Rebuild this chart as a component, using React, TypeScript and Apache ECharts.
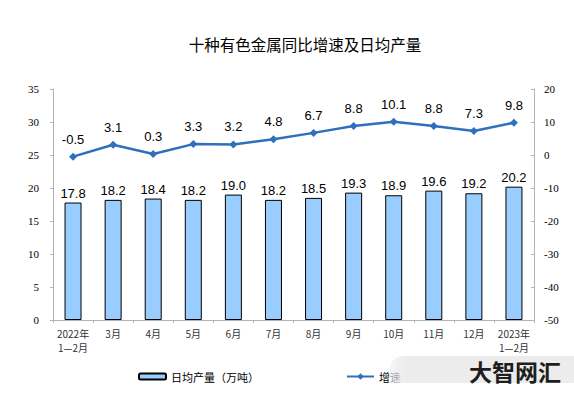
import React, { useEffect, useRef } from "react";
import * as echarts from "echarts";

const categories = ["2022年\n1—2月", "3月", "4月", "5月", "6月", "7月", "8月", "9月", "10月", "11月", "12月", "2023年\n1—2月"];
const output = [17.8, 18.2, 18.4, 18.2, 19.0, 18.2, 18.5, 19.3, 18.9, 19.6, 19.2, 20.2];
const growth = [-0.5, 3.1, 0.3, 3.3, 3.2, 4.8, 6.7, 8.8, 10.1, 8.8, 7.3, 9.8];
const barName = "日均产量（万吨）";
const lineName = "增速";
const titleText = "十种有色金属同比增速及日均产量";
const watermark = "大智网汇";

export default function App() {
  const ref = useRef<HTMLDivElement>(null);
  useEffect(() => {
    if (!ref.current) return;
    const chart = echarts.init(ref.current, null, { renderer: "svg" });
    const cjk = "'Noto Sans CJK SC', sans-serif";
    const axisLineColor = "#b3b3b3";
    chart.setOption({
      animation: false,
      backgroundColor: "#fff",
      title: {
        text: titleText,
        left: 300,
        textAlign: "center",
        top: 31,
        textStyle: { fontFamily: cjk, fontSize: 15.5, fontWeight: "normal", color: "#000" },
      },
      legend: [
        {
          data: [barName],
          left: 133,
          top: 366,
          itemWidth: 27,
          itemHeight: 6,
          itemGap: 4,
          textStyle: { fontFamily: cjk, fontSize: 11, color: "#000" },
        },
        {
          data: [lineName],
          left: 341,
          top: 366,
          itemWidth: 27,
          itemHeight: 8,
          itemGap: 4,
          textStyle: { fontFamily: cjk, fontSize: 11, color: "#000" },
        },
      ],
      grid: { left: 53, right: 40, top: 89, bottom: 77 },
      xAxis: {
        type: "category",
        data: categories,
        axisLine: { lineStyle: { color: axisLineColor } },
        axisTick: { show: true, length: 3, lineStyle: { color: axisLineColor } },
        axisLabel: {
          interval: 0,
          fontFamily: cjk,
          fontSize: 10,
          color: "#333",
          lineHeight: 14,
          margin: 6,
        },
      },
      yAxis: [
        {
          type: "value",
          min: 0,
          max: 35,
          interval: 5,
          splitLine: { show: false },
          axisLine: { show: true, lineStyle: { color: axisLineColor } },
          axisTick: { show: true, length: 3, lineStyle: { color: axisLineColor } },
          axisLabel: { fontFamily: "'Liberation Serif', serif", fontSize: 11, color: "#000", margin: 14 },
        },
        {
          type: "value",
          min: -50,
          max: 20,
          interval: 10,
          position: "right",
          splitLine: { show: false },
          axisLine: { show: true, lineStyle: { color: axisLineColor } },
          axisTick: { show: true, inside: true, length: 3, lineStyle: { color: axisLineColor } },
          axisLabel: { fontFamily: "'Liberation Serif', serif", fontSize: 11, color: "#000", margin: 10 },
        },
      ],
      series: [
        {
          name: barName,
          type: "bar",
          data: output,
          barWidth: 17,
          itemStyle: { color: "#99ccff", borderColor: "#000", borderWidth: 1 },
          label: {
            show: true,
            position: "top",
            distance: 3,
            fontFamily: "'Liberation Sans', Arial, sans-serif",
            fontSize: 13,
            color: "#000",
            formatter: (p: any) => p.value.toFixed(1),
          },
        },
        {
          name: lineName,
          type: "line",
          yAxisIndex: 1,
          data: growth,
          symbol: "diamond",
          symbolSize: 8,
          lineStyle: { color: "#2f6fbd", width: 2.5 },
          itemStyle: { color: "#2f6fbd" },
          label: {
            show: true,
            position: "top",
            distance: 7,
            fontFamily: "'Liberation Sans', Arial, sans-serif",
            fontSize: 13,
            color: "#000",
            formatter: (p: any) => p.value.toFixed(1),
          },
        },
      ],
      graphic: [
        {
          type: "rect",
          left: 390,
          top: 356,
          shape: { width: 200, height: 27, r: [13, 0, 0, 0] },
          style: {
            fill: new echarts.graphic.LinearGradient(0, 0, 1, 0, [
              { offset: 0, color: "rgba(236,236,236,0.55)" },
              { offset: 0.08, color: "rgba(236,236,236,1)" },
              { offset: 1, color: "rgba(236,236,236,1)" },
            ]),
          },
          z: 100,
        },
        {
          type: "text",
          left: 469,
          top: 359,
          z: 101,
          style: {
            text: watermark,
            font: "bold 23px 'Noto Sans CJK SC', sans-serif",
            fill: "#1e1e1e",
          },
        },
      ],
    });
    return () => chart.dispose();
  }, []);
  return <div ref={ref} style={{ position: "absolute", left: 0, top: 0, width: 574, height: 397 }} />;
}
